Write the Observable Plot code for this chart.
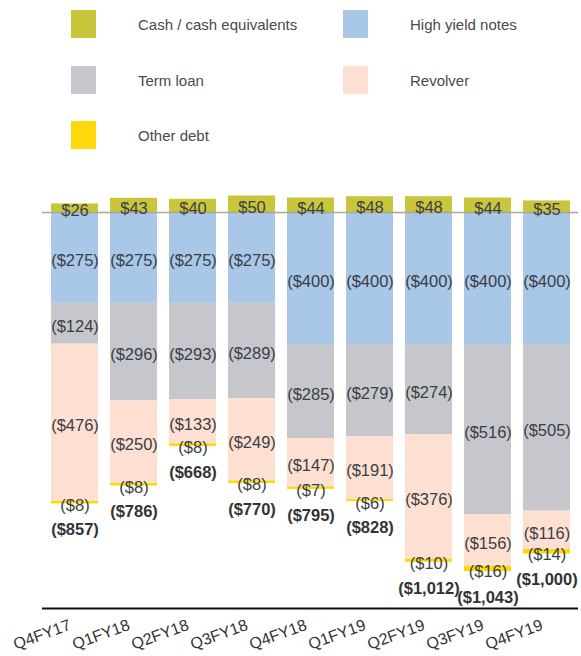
<!DOCTYPE html>
<html><head><meta charset="utf-8">
<script src="https://cdn.jsdelivr.net/npm/d3@7"></script>
<script src="https://cdn.jsdelivr.net/npm/@observablehq/plot@0.6"></script>
<style>
body{margin:0;background:#fff;font-family:"Liberation Sans",Arial,sans-serif;}
#legend{position:relative;width:581px;height:160px;}
.item{position:absolute;display:flex;align-items:center;font-size:15px;color:#4a4a4a;}
.sw{width:25px;height:28px;margin-right:42px;}
</style></head><body>
<div id="legend"></div>
<div id="chart"></div>
<script>
const quarters = ["Q4FY17","Q1FY18","Q2FY18","Q3FY18","Q4FY18","Q1FY19","Q2FY19","Q3FY19","Q4FY19"];
const cash = [26,43,40,50,44,48,48,44,35];
const highYieldNotes = [275,275,275,275,400,400,400,400,400];
const termLoan = [124,296,293,289,285,279,274,516,505];
const revolver = [476,250,133,249,147,191,376,156,116];
const otherDebt = [8,8,8,8,7,6,10,16,14];
const netDebtLabels = ["($857)","($786)","($668)","($770)","($795)","($828)","($1,012)","($1,043)","($1,000)"];
const seriesNames = ["Cash / cash equivalents","High yield notes","Term loan","Revolver","Other debt"];
const seriesColors = ["#c9c63c","#a9c7e6","#c6c7cc","#fde0d1","#fdd90b"];
const yFloor = -1200;

// legend
const legend = document.getElementById("legend");
const colX = [71, 343], rowY = [10, 66, 121];
seriesNames.forEach((name, i) => {
  const d = document.createElement("div");
  d.className = "item";
  d.style.left = colX[i % 2] + "px";
  d.style.top = rowY[Math.floor(i / 2)] + "px";
  d.innerHTML = `<div class="sw" style="background:${seriesColors[i]}"></div><span>${name}</span>`;
  legend.appendChild(d);
});

const debtSeries = [highYieldNotes, termLoan, revolver, otherDebt];
const rows = [];
quarters.forEach((q, i) => {
  rows.push({quarter: q, series: seriesNames[0], value: cash[i], label: "$" + cash[i]});
  debtSeries.forEach((arr, s) => rows.push({quarter: q, series: seriesNames[s + 1], value: -arr[i], label: `($${arr[i]})`}));
});
const totals = quarters.map((q, i) => ({
  quarter: q,
  y: -debtSeries.reduce((a, arr) => a + arr[i], 0),
  label: netDebtLabels[i]
}));

const chart = Plot.plot({
  width: 581, height: 496,
  marginLeft: 42, marginRight: 3, marginTop: 0, marginBottom: 48,
  style: {fontFamily: '"Liberation Sans", Arial, sans-serif', background: "#fff"},
  x: {domain: quarters, paddingInner: 0.21, paddingOuter: 0.1, label: null},
  y: {domain: [0, yFloor], range: [52, 448], axis: null},
  color: {domain: seriesNames, range: seriesColors},
  marks: [
    Plot.barY(rows, {x: "quarter", y: "value", fill: "series"}),
    Plot.ruleY([0], {stroke: "#a6a898", strokeWidth: 1.5}),
    Plot.ruleY([yFloor], {stroke: "#111", strokeWidth: 2}),
    Plot.text(rows, Plot.stackY({x: "quarter", y: "value", z: "series", text: "label", dy: 3, fontSize: 16.5, fill: "#3a3e46"})),
    Plot.text(totals, {x: "quarter", y: "y", text: "label", dy: 26, fontSize: 16.5, fontWeight: "bold", fill: "#333"}),
    Plot.axisX({tickSize: 0, tickRotate: -20, textAnchor: "end", tickPadding: 16, dx: -5, fontSize: 16, fill: "#333", label: null})
  ]
});
document.getElementById("chart").appendChild(chart);
</script>
</body></html>
